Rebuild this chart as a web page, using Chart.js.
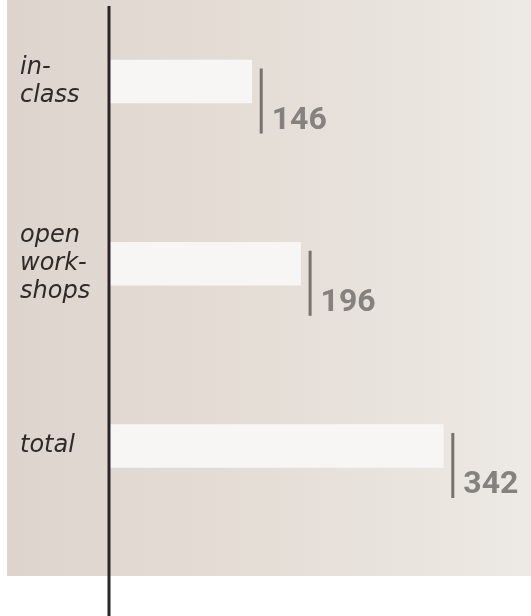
<!DOCTYPE html>
<html lang="en">
<head>
    <meta charset="UTF-8">
    <title>in-class / open workshops / total</title>
    <script src="https://cdn.jsdelivr.net/npm/chart.js"></script>
    <style>
        body { margin: 0; background: #ffffff; }
        #wrap { width: 531px; height: 616px; }
    </style>
</head>
<body>
    <div id="wrap"><canvas id="chart" width="531" height="616"></canvas></div>

<script>
// categories (multi-line, as in the picture)
const categories = [['in-', 'class'], ['open', 'work-', 'shops'], ['total']];
// participants
const values = [146, 196, 342];
// x axis range
const xMax = 400;

// beige panel behind the chart
const panelPlugin = {
    id: 'panel',
    beforeDraw(chart) {
        const ctx = chart.ctx;
        const g = ctx.createLinearGradient(7, 0, 531, 0);
        g.addColorStop(0, '#ddd5cd');
        g.addColorStop(0.5, '#e5ded7');
        g.addColorStop(1, '#ede9e4');
        ctx.save();
        ctx.fillStyle = g;
        ctx.fillRect(7, 0, 524, 576);
        ctx.restore();
    }
};

// black axis line + value markers
const markPlugin = {
    id: 'marks',
    afterDatasetsDraw(chart) {
        const ctx = chart.ctx;
        const x0 = chart.scales.x.getPixelForValue(0);
        ctx.save();
        ctx.fillStyle = '#2a2626';
        ctx.fillRect(x0 - 1.5, 6, 3, 610);

        const meta = chart.getDatasetMeta(0);
        meta.data.forEach((bar, i) => {
            const lx = bar.x + 8;
            ctx.fillStyle = '#77726e';
            ctx.fillRect(lx, bar.y - 13, 3, 65);
            ctx.fillStyle = '#85817e';
            ctx.font = 'bold 32px Roboto, "Liberation Sans", sans-serif';
            ctx.textAlign = 'left';
            ctx.textBaseline = 'alphabetic';
            ctx.fillText(String(values[i]), lx + 12, bar.y + 47);
        });
        ctx.restore();
    }
};

new Chart(document.getElementById('chart'), {
    type: 'bar',
    data: {
        labels: categories,
        datasets: [{
            data: values,
            backgroundColor: '#f8f6f4',
            borderWidth: 0,
            barThickness: 43,
            clip: false
        }]
    },
    options: {
        indexAxis: 'y',
        responsive: false,
        animation: false,
        layout: { padding: { left: 20, top: 81.5, bottom: 170, right: 31 } },
        plugins: { legend: { display: false }, tooltip: { enabled: false } },
        scales: {
            x: {
                display: false,
                min: 0,
                max: xMax
            },
            y: {
                offset: false,
                grid: { display: false },
                border: { display: false },
                afterFit(scale) { scale.width = 89; },
                ticks: {
                    crossAlign: 'far',
                    color: '#2e2a2a',
                    font: { family: '"DejaVu Sans", sans-serif', size: 24, style: 'italic', lineHeight: '28px' }
                }
            }
        }
    },
    plugins: [panelPlugin, markPlugin]
});
</script>
</body>
</html>
